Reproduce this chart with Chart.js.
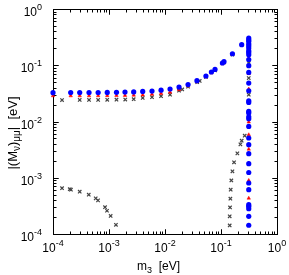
<!DOCTYPE html>
<html>
<head>
<meta charset="utf-8">
<script src="https://cdn.jsdelivr.net/npm/chart.js@4/dist/chart.umd.min.js"></script>
<style>
html,body{margin:0;padding:0;background:#fff;}
#wrap{width:289px;height:275px;position:relative;}
</style>
</head>
<body>
<div id="wrap"><canvas id="c" width="289" height="275"></canvas></div>
<script>
// ---- data ----
const blueM3 = [1.0e-4, 2.07e-4, 3.0e-4, 4.4e-4, 6.4e-4, 9.3e-4, 1.36e-3, 1.93e-3, 2.76e-3, 4.0e-3, 5.86e-3, 8.5e-3, 1.23e-2, 1.78e-2, 2.58e-2, 3.72e-2, 5.38e-2, 6.74e-2, 7.82e-2, 0.106, 0.113, 0.160, 0.234,
  0.313, 0.313, 0.313, 0.313, 0.313, 0.313, 0.313, 0.313, 0.313, 0.313, 0.313, 0.313, 0.313, 0.313, 0.313, 0.313, 0.313, 0.313, 0.313, 0.313, 0.313, 0.313, 0.313, 0.313, 0.313, 0.313, 0.313, 0.313, 0.313, 0.313, 0.313, 0.313, 0.313, 0.313];
const blueM = [0.0326, 0.0328, 0.0328, 0.0328, 0.0328, 0.0329, 0.0330, 0.0333, 0.0336, 0.0342, 0.0348, 0.0360, 0.0378, 0.0410, 0.0455, 0.0531, 0.0644, 0.0759, 0.0844, 0.1096, 0.1156, 0.160, 0.232,
  0.305, 0.284, 0.266, 0.241, 0.223, 0.203, 0.181, 0.169, 0.154, 0.126, 0.0982, 0.0746, 0.0483, 0.0352, 0.0233, 0.0218, 0.0151, 0.0142, 0.0121, 0.0112, 0.00819, 0.00509, 0.00387, 0.00268, 0.00178, 0.00124, 0.000807, 0.000613, 0.000332, 0.00031, 0.000282, 0.000206, 0.000143];

const redM3 = [1.0e-4, 2.07e-4, 3.0e-4, 4.4e-4, 6.4e-4, 9.3e-4, 1.36e-3, 1.93e-3, 2.76e-3, 4.0e-3, 5.86e-3, 8.5e-3, 1.23e-2, 1.78e-2, 2.58e-2, 3.72e-2, 5.38e-2, 6.74e-2, 7.82e-2, 0.106, 0.113, 0.160, 0.234,
  0.313, 0.313, 0.313, 0.313, 0.313, 0.313, 0.313, 0.313, 0.313, 0.313];
const redM = [0.0286, 0.0286, 0.0286, 0.0286, 0.0287, 0.0288, 0.0289, 0.0290, 0.0293, 0.0296, 0.0305, 0.0316, 0.0332, 0.0368, 0.043, 0.051, 0.062, 0.073, 0.082, 0.106, 0.112, 0.156, 0.228,
  0.200, 0.1346, 0.0708, 0.0378, 0.0098, 0.00582, 0.00322, 0.00183, 0.000897, 0.000433];

const grayM3 = [1.45e-4, 3.0e-4, 4.4e-4, 6.4e-4, 9.3e-4, 1.36e-3, 1.95e-3, 2.76e-3, 4.0e-3, 5.86e-3, 8.5e-3, 1.23e-2, 1.78e-2, 2.03e-2, 2.58e-2, 3.76e-2, 4.17e-2, 5.38e-2, 7.82e-2, 0.113, 0.160,
  0.313, 0.313, 0.313, 0.313,
  0.265, 0.234, 0.222, 0.196, 0.171, 0.160, 0.153, 0.149, 0.147, 0.145, 0.143, 0.143,
  1.45e-4, 1.99e-4, 2.09e-4, 3.0e-4, 4.35e-4, 5.79e-4, 6.37e-4, 8.49e-4, 9.21e-4, 1.07e-3, 1.33e-3];
const grayM = [0.0241, 0.0242, 0.0242, 0.0242, 0.0243, 0.0244, 0.0246, 0.0249, 0.0262, 0.0270, 0.0282, 0.0300, 0.0353, 0.0372, 0.0416, 0.0500, 0.0525, 0.062, 0.081, 0.112, 0.155,
  0.1096, 0.0593, 0.030, 0.015,
  0.0056, 0.00456, 0.00392, 0.00271, 0.00188, 0.0013, 0.000897, 0.000613, 0.000425, 0.000297, 0.000206, 0.000142,
  6.52e-4, 6.25e-4, 6.13e-4, 5.65e-4, 5.0e-4, 4.3e-4, 3.96e-4, 2.99e-4, 2.59e-4, 2.09e-4, 1.46e-4];

const xTickExps = [-4, -3, -2, -1, 0];
const yTickExps = [-4, -3, -2, -1, 0];
const xTitle = ['m', '3', '  [eV]'];           // base, subscript, rest
const yTitle = ['|(M', 'ν', ')', 'μμ', '|  [eV]']; // base, sub, base, sub, base

function pts(xs, ys){ return xs.map((x,i)=>({x:x, y:ys[i]})); }

const FONT = '"Liberation Sans", Arial, Helvetica, sans-serif';

const framePlugin = {
  id: 'frame',
  beforeDatasetsDraw(chart){
    const ctx = chart.ctx, a = chart.chartArea;
    const xs = chart.scales.x, ys = chart.scales.y;
    ctx.save();
    ctx.strokeStyle = '#000';
    ctx.lineWidth = 1;
    const L = Math.round(a.left)+0.5, R = Math.round(a.right)+0.5, T = Math.round(a.top)+0.5, B = Math.round(a.bottom)+0.5;
    ctx.strokeRect(L, T, R-L, B-T);
    ctx.beginPath();
    for (let e = -4; e < 0; e++){
      for (let k = 1; k <= 10; k++){
        const v = k*Math.pow(10,e);
        const len = (k===1||k===10) ? 5 : 3;
        const px = Math.round(xs.getPixelForValue(v))+0.5;
        ctx.moveTo(px, B); ctx.lineTo(px, B-len);
        ctx.moveTo(px, T); ctx.lineTo(px, T+len);
        const py = Math.round(ys.getPixelForValue(v))+0.5;
        ctx.moveTo(L, py); ctx.lineTo(L+len, py);
        ctx.moveTo(R, py); ctx.lineTo(R-len, py);
      }
    }
    ctx.stroke();
    ctx.restore();
  },
  afterDraw(chart){
    const ctx = chart.ctx, a = chart.chartArea;
    const xs = chart.scales.x, ys = chart.scales.y;
    ctx.save();
    ctx.fillStyle = '#000';
    ctx.textBaseline = 'alphabetic';
    const big = '12px ' + FONT, small = '9px ' + FONT;
    const tbig = '13px ' + FONT, tsmall = '10px ' + FONT;
    function measure(f, t){ ctx.font = f; return ctx.measureText(t).width; }
    // x tick labels
    xTickExps.forEach(e=>{
      const px = xs.getPixelForValue(Math.pow(10,e));
      const b = '10', s = String(e);
      const wb = measure(big, b), ws = measure(small, s);
      const x0 = px - (wb+ws)/2;
      ctx.font = big; ctx.textAlign='left'; ctx.fillText(b, x0, 252);
      ctx.font = small; ctx.fillText(s, x0+wb, 246);
    });
    // y tick labels
    yTickExps.forEach(e=>{
      const py = ys.getPixelForValue(Math.pow(10,e));
      const b = '10', s = String(e);
      const wb = measure(big, b), ws = measure(small, s);
      const xr = 42;
      ctx.font = big; ctx.textAlign='left'; ctx.fillText(b, xr-ws-wb, py+7);
      ctx.font = small; ctx.fillText(s, xr-ws, py+1);
    });
    // x title
    {
      const w0 = measure(big, xTitle[0]), w1 = measure(small, xTitle[1]), w2 = measure(big, xTitle[2]);
      let x = 137;
      const y = 270;
      ctx.font = big; ctx.fillText(xTitle[0], x, y); x += w0;
      ctx.font = small; ctx.fillText(xTitle[1], x, y+3); x += w1;
      ctx.font = big; ctx.fillText(xTitle[2], x, y);
    }
    // y title (rotated)
    {
      const parts = yTitle.map((t,i)=>({t, f: (i===1||i===3)?tsmall:tbig, sub: (i===1||i===3)}));
      const ws = parts.map(p=>measure(p.f, p.t));
      const tot = ws.reduce((s,v)=>s+v,0);
      ctx.translate(17, 133);
      ctx.rotate(-Math.PI/2);
      let x = -tot/2;
      parts.forEach((p,i)=>{
        ctx.font = p.f; ctx.textAlign='left';
        ctx.fillText(p.t, x, p.sub ? 3 : 0);
        x += ws[i];
      });
    }
    ctx.restore();
  }
};

const logScale = (min,max)=>({type:'logarithmic', min, max, display:false});

new Chart(document.getElementById('c'), {
  type: 'scatter',
  data: {
    datasets: [
      {label:'blue', data: pts(blueM3, blueM), pointStyle:'circle', pointRadius:2.6, backgroundColor:'#0000ff', borderWidth:0, clip:false},
      {label:'red', data: pts(redM3, redM), pointStyle:'triangle', pointRadius:2, backgroundColor:'#ff0000', borderColor:'#ff0000', borderWidth:0.5, clip:false},
      {label:'gray', data: pts(grayM3, grayM), pointStyle:'crossRot', pointRadius:2.4, borderColor:'#444', borderWidth:1.2, backgroundColor:'#444', clip:false}
    ]
  },
  options: {
    responsive:false,
    animation:false,
    events:[],
    layout:{padding:{left:53, top:9, right:12, bottom:41}},
    plugins:{legend:{display:false}, tooltip:{enabled:false}},
    scales:{ x: logScale(1e-4, 1), y: logScale(1e-4, 1) }
  },
  plugins:[framePlugin]
});
</script>
</body>
</html>
